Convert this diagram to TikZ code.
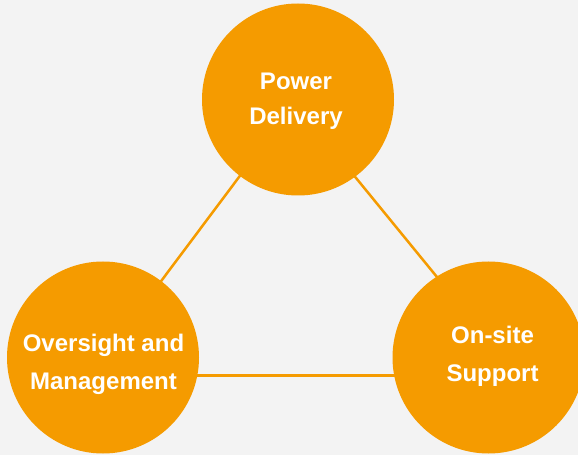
\documentclass[tikz,border=0pt]{standalone}
\usepackage{fontspec}
\setmainfont{Liberation Sans}
\definecolor{bgc}{HTML}{F3F3F3}
\definecolor{orng}{HTML}{F59B00}
\begin{document}
\begin{tikzpicture}[x=1pt,y=1pt,
  circ/.style={circle,fill=orng,draw=none,minimum size=192pt,inner sep=0pt},
  lbl/.style={text=white,align=center,inner sep=0pt,font=\bfseries\fontsize{24}{38}\selectfont},
  link/.style={draw=orng,line width=2.5pt}]
\useasboundingbox (0,0) rectangle (578,455);
\clip (0,0) rectangle (578,455);
\fill[bgc] (0,0) rectangle (578,455);
% triangle vertices (behind the circles)
\coordinate (vt) at (294.6,352.2);
\coordinate (vl) at (90.6,79.7);
\coordinate (vr) at (517.3,79.7);
\draw[link] (vt) -- (vl);
\draw[link] (vt) -- (vr);
\draw[link] (vl) -- (vr);
% circles
\node[circ] (pd) at (298,355.5) {};
\node[circ] (om) at (103,97.5) {};
\node[circ] (os) at (488.5,97.5) {};
% labels
\node[lbl,font=\bfseries\fontsize{24}{35}\selectfont] (pdl) at (296,353.7) {Power\\Delivery};
\node[lbl] (oml) at (103.5,91) {Oversight and\\Management};
\node[lbl] (osl) at (492.5,99) {On-site\\Support};
\end{tikzpicture}
\end{document}
